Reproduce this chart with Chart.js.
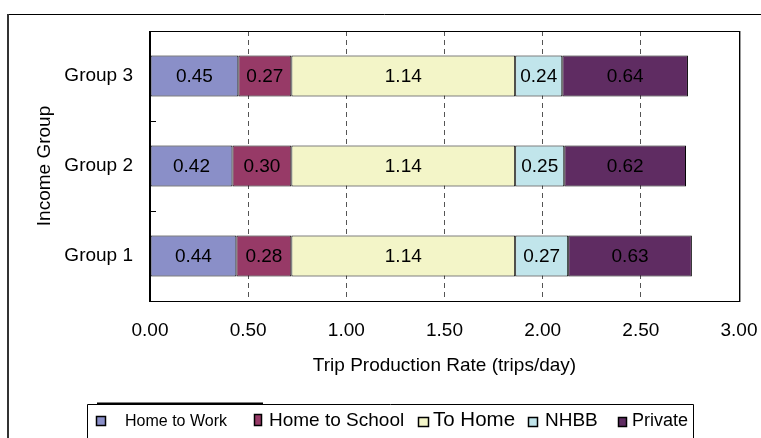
<!DOCTYPE html>
<html>
<head>
<meta charset="utf-8">
<script src="https://cdn.jsdelivr.net/npm/chart.js@4/dist/chart.umd.min.js"></script>
<style>
  html, body { margin: 0; padding: 0; background: #fff; }
  #wrap { width: 761px; height: 438px; }
</style>
</head>
<body>
<div id="wrap"><canvas id="c" width="761" height="438"></canvas></div>
<script>
// Trip production rates (trips/day) by income group and trip purpose
const groups       = ['Group 1', 'Group 2', 'Group 3'];
const homeToWork   = [0.44, 0.42, 0.45];
const homeToSchool = [0.28, 0.30, 0.27];
const toHome       = [1.14, 1.14, 1.14];
const nhbb         = [0.27, 0.25, 0.24];
const privateTrips = [0.63, 0.62, 0.64];
const purposes     = ['Home to Work', 'Home to School', 'To Home', 'NHBB', 'Private'];
const xTickValues  = [0, 0.5, 1, 1.5, 2, 2.5, 3];

const colors = ['#8a8fc8', '#973a67', '#f3f5c8', '#c1e5eb', '#5f2c62'];
const FONT = "'Liberation Sans', Arial, sans-serif";

// Legend slots: marker box and text start, per purpose
const legendSlots = [
  { box: [96, 416, 10, 10], textX: 125, size: 16 },
  { box: [254, 414, 8, 12], textX: 269, size: 19 },
  { box: [418, 417, 11, 10], textX: 433, size: 20.5 },
  { box: [528, 417, 10, 10], textX: 545, size: 19 },
  { box: [618, 417, 9, 10], textX: 632, size: 18 }
];

const seriesValues = [homeToWork, homeToSchool, toHome, nhbb, privateTrips];

const framePlugin = {
  id: 'frame',
  beforeDraw(chart) {
    const ctx = chart.ctx;
    ctx.save();
    ctx.fillStyle = '#fff';
    ctx.fillRect(0, 0, chart.width, chart.height);
    ctx.restore();
  },
  afterDatasetsDraw(chart) {
    const ctx = chart.ctx;
    const a = chart.chartArea;
    const y = chart.scales.y;
    ctx.save();
    // short inner ticks between categories
    ctx.strokeStyle = '#000';
    ctx.lineWidth = 1;
    for (let i = 0; i < groups.length - 1; i++) {
      const py = Math.round((y.getPixelForValue(i) + y.getPixelForValue(i + 1)) / 2) + 0.5;
      ctx.beginPath();
      ctx.moveTo(a.left, py);
      ctx.lineTo(a.left + 6, py);
      ctx.stroke();
    }
    // value labels centred in each segment
    ctx.fillStyle = '#000';
    ctx.font = '19px ' + FONT;
    ctx.textAlign = 'center';
    ctx.textBaseline = 'middle';
    chart.data.datasets.forEach((ds, di) => {
      const meta = chart.getDatasetMeta(di);
      meta.data.forEach((bar, i) => {
        const p = bar.getProps(['x', 'y', 'base'], true);
        ctx.fillText(ds.data[i].toFixed(2), (p.x + p.base) / 2, p.y + 1);
      });
    });
    // plot frame
    const l = Math.round(a.left), t = Math.round(a.top);
    const r = Math.round(a.right), b = Math.round(a.bottom);
    ctx.strokeStyle = '#999';
    ctx.beginPath();
    ctx.moveTo(r + 1.5, t);
    ctx.lineTo(r + 1.5, b + 1);
    ctx.stroke();
    ctx.strokeStyle = '#000';
    ctx.strokeRect(l + 0.5, t + 0.5, r - l, b - t);
    ctx.beginPath();
    ctx.moveTo(l - 0.5, t);
    ctx.lineTo(l - 0.5, b + 1);
    ctx.stroke();
    ctx.restore();
  },
  afterDraw(chart) {
    const ctx = chart.ctx;
    ctx.save();
    // outer chart frame
    ctx.strokeStyle = '#000';
    ctx.lineWidth = 1;
    ctx.beginPath();
    ctx.moveTo(8, 14.5);
    ctx.lineTo(chart.width, 14.5);
    ctx.stroke();
    ctx.strokeStyle = '#333';
    ctx.lineWidth = 2;
    ctx.beginPath();
    ctx.moveTo(8, 14);
    ctx.lineTo(8, chart.height);
    ctx.stroke();
    // legend box
    ctx.strokeStyle = '#000';
    ctx.lineWidth = 1;
    ctx.beginPath();
    ctx.moveTo(87.5, chart.height);
    ctx.lineTo(87.5, 404.5);
    ctx.lineTo(693.5, 404.5);
    ctx.lineTo(693.5, chart.height);
    ctx.stroke();
    ctx.lineWidth = 2;
    ctx.beginPath();
    ctx.moveTo(97, 403.5);
    ctx.lineTo(263, 403.5);
    ctx.stroke();
    // legend entries
    ctx.textAlign = 'left';
    ctx.textBaseline = 'alphabetic';
    chart.data.datasets.forEach((ds, i) => {
      const s = legendSlots[i];
      const [bx, by, bw, bh] = s.box;
      ctx.fillStyle = ds.backgroundColor;
      ctx.fillRect(bx, by, bw, bh);
      ctx.lineWidth = 1.5;
      ctx.strokeStyle = '#000';
      ctx.strokeRect(bx + 0.5, by + 0.5, bw - 1, bh - 1);
      ctx.fillStyle = '#000';
      ctx.font = s.size + 'px ' + FONT;
      ctx.fillText(ds.label, s.textX, 426);
    });
    ctx.restore();
  }
};

new Chart(document.getElementById('c'), {
  type: 'bar',
  data: {
    labels: groups,
    datasets: purposes.map((name, i) => ({
      label: name,
      data: seriesValues[i],
      backgroundColor: colors[i],
      borderColor: '#000',
      borderWidth: 1,
      borderSkipped: false,
      barPercentage: 0.455,
      categoryPercentage: 1
    }))
  },
  plugins: [framePlugin],
  options: {
    indexAxis: 'y',
    responsive: false,
    animation: false,
    events: [],
    layout: { padding: { top: 31, right: 22, left: 0, bottom: 61 } },
    plugins: {
      legend: { display: false },
      tooltip: { enabled: false }
    },
    scales: {
      x: {
        stacked: true,
        min: 0,
        max: 3,
        afterBuildTicks(scale) {
          scale.ticks = xTickValues.map(v => ({ value: v }));
        },
        afterFit(scale) {
          scale.height = 76;
          scale.paddingLeft = 0;
          scale.paddingRight = 0;
        },
        grid: {
          color: '#555',
          lineWidth: 1,
          drawTicks: false
        },
        border: { display: false, dash: [5, 4] },
        ticks: {
          padding: 18,
          color: '#000',
          font: { family: FONT, size: 19 },
          callback: v => Number(v).toFixed(2)
        },
        title: {
          display: true,
          text: 'Trip Production Rate (trips/day)',
          color: '#000',
          font: { family: FONT, size: 19 },
          padding: { top: 0, bottom: 0 }
        }
      },
      y: {
        stacked: true,
        reverse: true,
        afterFit(scale) { scale.width = 150; },
        grid: { display: false, drawTicks: false },
        border: { display: false },
        ticks: {
          padding: 17,
          color: '#000',
          font: { family: FONT, size: 19 }
        },
        title: {
          display: true,
          text: 'Income Group',
          color: '#000',
          font: { family: FONT, size: 19 },
          padding: { top: 33, bottom: 0 }
        }
      }
    }
  }
});
</script>
</body>
</html>
